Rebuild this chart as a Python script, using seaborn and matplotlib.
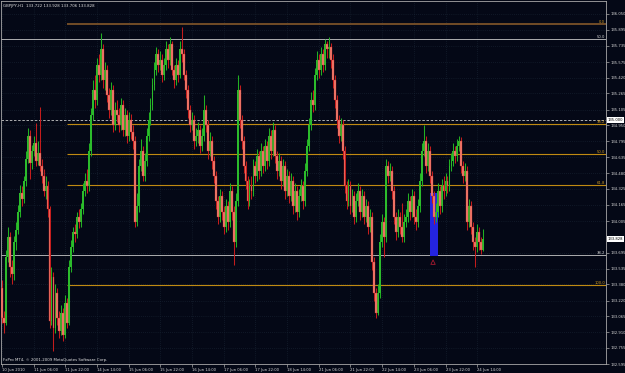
import matplotlib
matplotlib.use("Agg")
import matplotlib.pyplot as plt
import seaborn as sns
import pandas as pd
from matplotlib.patches import Rectangle

# ---------------- data ----------------
title_text = "GBPJPY,H1  133.722 133.928 133.706 133.828"
footer_text = "FxPro MT4, \u00a9 2001-2009 MetaQuotes Software Corp."

open_first = 133.35
closes = [
    133.05, 133.00, 133.65, 133.85, 133.55, 133.48, 133.80, 133.92, 134.10, 134.28,
    134.22, 134.40, 134.62, 134.85, 134.58, 134.70, 134.78, 134.60, 134.68, 134.55,
    134.45, 134.30, 134.35, 134.12, 133.02, 133.45, 132.95, 133.30, 133.05, 132.92,
    133.10, 132.88, 133.20, 133.00, 133.55, 133.75, 133.90, 133.88, 134.05, 134.00,
    134.12, 134.30, 134.40, 134.35, 134.70, 135.05, 135.30, 135.20, 135.55, 135.45,
    135.70, 135.40, 135.50, 135.25, 135.10, 135.30, 134.95, 135.10, 135.05, 134.95,
    135.15, 134.90, 135.05, 134.85, 135.00, 134.88, 134.80, 134.00, 134.15, 134.55,
    134.70, 134.45, 134.60, 134.85, 135.00, 135.15, 135.35, 135.50, 135.65, 135.55,
    135.60, 135.45, 135.55, 135.70, 135.60, 135.75, 135.50, 135.40, 135.55, 135.45,
    135.70, 135.65, 135.45, 135.30, 135.10, 134.95, 135.00, 134.80, 134.85, 134.90,
    134.75, 134.85, 135.10, 134.95, 134.70, 134.80, 134.60, 134.45, 134.20, 134.05,
    134.25, 134.10, 133.95, 134.15, 134.00, 134.30, 134.10, 133.80, 134.20, 135.30,
    135.00, 134.80, 134.55, 134.40, 134.20, 134.35, 134.30, 134.55, 134.45, 134.65,
    134.50, 134.70, 134.55, 134.75, 134.60, 134.85, 134.70, 134.90, 134.65, 134.50,
    134.60, 134.40, 134.55, 134.30, 134.45, 134.25, 134.40, 134.15, 134.30, 134.10,
    134.25, 134.35, 134.20, 134.50, 134.75, 134.95, 135.20, 135.15, 135.45, 135.60,
    135.50, 135.65, 135.55, 135.75, 135.70, 135.72, 135.60, 135.40, 135.20, 135.00,
    134.85, 134.95, 134.70, 134.35, 134.20, 134.35, 134.15, 134.25, 134.05, 134.20,
    134.30, 134.10, 134.25, 134.05, 134.15, 133.95, 134.05, 133.60, 133.30, 133.10,
    133.30, 133.80, 134.00, 133.85, 134.55, 134.45, 134.50, 134.30, 134.05, 133.90,
    134.05, 133.95, 133.85, 134.00, 134.05, 134.20, 134.10, 134.25, 134.05, 134.00,
    134.15, 134.40, 134.70, 134.80, 134.55, 134.70, 134.45, 134.25, 134.05, 134.10,
    134.30, 134.15, 134.35, 134.30, 134.40, 134.35, 134.55, 134.60, 134.70, 134.65,
    134.75, 134.80, 134.55, 134.45, 134.50, 134.00, 134.15, 133.95, 133.80, 133.75,
    133.90, 133.80, 133.722, 133.828,
]
highs = [
    133.42, 133.12, 133.72, 133.95, 133.90, 133.62, 133.86, 134.00, 134.16, 134.36,
    134.35, 134.45, 134.70, 134.92, 134.90, 134.76, 134.85, 134.97, 134.80, 135.13,
    134.62, 134.52, 134.45, 134.40, 134.15, 133.55, 133.50, 133.38, 133.35, 133.12,
    133.18, 133.15, 133.28, 133.25, 133.62, 133.82, 133.95, 133.98, 134.10, 134.12,
    134.18, 134.38, 134.48, 134.52, 134.78, 135.12, 135.40, 135.45, 135.62, 135.65,
    135.86, 135.75, 135.58, 135.55, 135.32, 135.38, 135.35, 135.18, 135.20, 135.12,
    135.22, 135.20, 135.12, 135.10, 135.08, 135.06, 134.95, 134.85, 134.28, 134.62,
    134.82, 134.75, 134.68, 134.92, 135.08, 135.22, 135.42, 135.58, 135.72, 135.70,
    135.68, 135.65, 135.62, 135.78, 135.75, 135.82, 135.78, 135.55, 135.62, 135.60,
    135.78, 135.92, 135.70, 135.50, 135.35, 135.15, 135.08, 135.05, 134.92, 134.98,
    134.95, 134.92, 135.25, 135.15, 135.00, 134.88, 134.85, 134.65, 134.50, 134.25,
    134.32, 134.30, 134.15, 134.22, 134.20, 134.38, 134.35, 134.15, 134.28, 135.45,
    135.35, 135.05, 134.85, 134.60, 134.45, 134.42, 134.45, 134.62, 134.60, 134.72,
    134.70, 134.78, 134.75, 134.82, 134.80, 134.92, 134.90, 134.98, 134.95, 134.70,
    134.68, 134.65, 134.62, 134.60, 134.52, 134.50, 134.48, 134.45, 134.38, 134.35,
    134.32, 134.42, 134.40, 134.58, 134.82, 135.02, 135.28, 135.30, 135.52, 135.68,
    135.65, 135.72, 135.70, 135.80, 135.78, 135.82, 135.76, 135.65, 135.45, 135.25,
    135.05, 135.02, 135.00, 134.75, 134.40, 134.42, 134.40, 134.32, 134.30, 134.28,
    134.38, 134.35, 134.32, 134.30, 134.22, 134.20, 134.12, 134.10, 133.65, 133.35,
    133.38, 133.88, 134.08, 134.05, 134.62, 134.60, 134.58, 134.55, 134.35, 134.10,
    134.12, 134.10, 134.18, 134.08, 134.12, 134.28, 134.25, 134.32, 134.30, 134.12,
    134.22, 134.48, 134.78, 134.95, 134.85, 134.78, 134.75, 134.50, 134.30, 134.18,
    134.38, 134.35, 134.42, 134.45, 134.48, 134.45, 134.62, 134.68, 134.78, 134.75,
    134.82, 134.85, 134.84, 134.60, 134.58, 134.55, 134.22, 134.20, 134.00, 133.85,
    133.98, 133.95, 133.85, 133.928,
]
lows = [
    133.00, 132.90, 132.98, 133.60, 133.45, 133.38, 133.42, 133.72, 133.88, 134.05,
    134.15, 134.18, 134.35, 134.58, 134.42, 134.52, 134.65, 134.55, 134.56, 134.50,
    134.38, 134.25, 134.22, 134.05, 132.95, 132.98, 132.72, 132.90, 132.98, 132.85,
    132.88, 132.82, 132.85, 132.95, 132.98, 133.50, 133.70, 133.80, 133.84, 133.94,
    133.95, 134.08, 134.25, 134.28, 134.30, 134.65, 135.00, 135.12, 135.15, 135.38,
    135.40, 135.32, 135.30, 135.18, 135.02, 135.05, 134.88, 134.90, 134.98, 134.88,
    134.90, 134.85, 134.85, 134.78, 134.80, 134.82, 134.72, 133.95, 133.96, 134.10,
    134.50, 134.40, 134.40, 134.55, 134.80, 134.95, 135.10, 135.30, 135.45, 135.48,
    135.50, 135.38, 135.40, 135.50, 135.52, 135.55, 135.45, 135.32, 135.35, 135.38,
    135.42, 135.58, 135.40, 135.22, 135.02, 134.88, 134.90, 134.72, 134.75, 134.78,
    134.68, 134.70, 134.80, 134.88, 134.62, 134.65, 134.52, 134.38, 134.12, 133.98,
    134.00, 134.02, 133.88, 133.90, 133.92, 133.95, 134.02, 133.57, 133.75, 134.15,
    134.92, 134.72, 134.48, 134.32, 134.12, 134.15, 134.22, 134.25, 134.38, 134.40,
    134.42, 134.45, 134.48, 134.50, 134.52, 134.55, 134.62, 134.65, 134.58, 134.42,
    134.45, 134.32, 134.35, 134.22, 134.25, 134.18, 134.20, 134.08, 134.10, 134.02,
    134.05, 134.20, 134.12, 134.15, 134.45, 134.70, 134.90, 135.08, 135.10, 135.40,
    135.42, 135.45, 135.48, 135.50, 135.62, 135.62, 135.52, 135.32, 135.12, 134.92,
    134.78, 134.80, 134.62, 134.28, 134.12, 134.15, 134.08, 134.10, 133.98, 134.00,
    134.15, 134.02, 134.05, 133.98, 134.00, 133.88, 133.90, 133.52, 133.22, 133.05,
    133.08, 133.25, 133.75, 133.65, 133.80, 134.38, 134.40, 134.22, 133.98, 133.82,
    133.85, 133.88, 133.80, 133.80, 133.95, 134.00, 134.02, 134.05, 133.98, 133.92,
    133.95, 134.10, 134.35, 134.65, 134.48, 134.50, 134.38, 134.18, 133.98, 134.00,
    134.05, 134.08, 134.10, 134.22, 134.25, 134.28, 134.30, 134.50, 134.55, 134.58,
    134.60, 134.70, 134.48, 134.38, 134.40, 133.92, 133.95, 133.88, 133.72, 133.55,
    133.70, 133.72, 133.68, 133.706,
]

time_labels = ["10 Jun 2010", "11 Jun 06:00", "11 Jun 22:00", "14 Jun 14:00",
               "15 Jun 06:00", "15 Jun 22:00", "16 Jun 14:00", "17 Jun 06:00",
               "17 Jun 22:00", "18 Jun 14:00", "21 Jun 06:00", "21 Jun 22:00",
               "22 Jun 14:00", "23 Jun 06:00", "23 Jun 22:00", "24 Jun 14:00"]
time_label_bars = [0, 16, 32, 48, 64, 80, 96, 112, 128, 144, 160, 176, 192, 208, 224, 240]

price_ticks = [136.050, 135.895, 135.735, 135.575, 135.420, 135.265, 135.105,
               134.950, 134.795, 134.635, 134.480, 134.325, 134.165, 134.005,
               133.695, 133.535, 133.380, 133.220, 133.065, 132.910,
               132.755, 132.595]

fib_orange_labels = ["0.0", "38.2", "50.0", "61.8", "100.0"]
fib_orange_prices = [135.951, 134.964, 134.668, 134.362, 133.375]
fib_orange_start_bar = 33
fib_white_labels = ["50.0", "38.2"]
fib_white_prices = [135.803, 133.671]
hline_price = 135.000
current_price = 133.828
box_bars = [216.2, 220.2]
box_prices = [133.661, 134.283]
arrow_bar = 217.7
arrow_price = 133.60

# ---------------- build frame ----------------
opens = [open_first] + closes[:-1]
df = pd.DataFrame({"bar": range(len(closes)), "open": opens, "high": highs,
                   "low": lows, "close": closes})
df["up"] = df["close"] >= df["open"]

BG = "#040816"
sns.set_style("dark", rc={"axes.facecolor": BG, "figure.facecolor": BG,
                          "axes.edgecolor": "#a8a8a8", "grid.color": "#1a2636"})
plt.rcParams["font.family"] = ["DejaVu Sans"]

W, H = 625, 373
fig = plt.figure(figsize=(W / 100, H / 100), dpi=100)
ax = fig.add_axes([1 / W, (H - 364) / H, 605 / W, 363 / H])
ax.set_facecolor(BG)

px_per_bar = 1.98
px_per_price = 1 / 0.00987
ax.set_xlim(-1 / px_per_bar, (606 - 2) / px_per_bar)
ax.set_ylim(132.595, 132.595 + 363 / px_per_price)

# grid
ax.grid(True, color="#1b2838", linestyle=(0, (1, 2)), linewidth=0.5)

# horizontal objects
x_right = ax.get_xlim()[1]
ax.axhline(hline_price, color="#c8c8c8", lw=0.6, ls=(0, (3, 2)), zorder=2)
for lab, p in zip(fib_white_labels, fib_white_prices):
    ax.axhline(p, color="#c8c8c8", lw=0.6, zorder=2)
    ax.text(0.998, p, lab, transform=ax.get_yaxis_transform(), ha="right",
            va="bottom", fontsize=2.7, color="#d8d8d8")
for lab, p in zip(fib_orange_labels, fib_orange_prices):
    col = "#7a5228" if lab == "0.0" else "#c08a12"
    lw = 1.3 if lab == "0.0" else 0.8
    ax.hlines(p, fib_orange_start_bar, x_right, color=col, lw=lw, zorder=2)
    ax.text(0.998, p, lab, transform=ax.get_yaxis_transform(), ha="right",
            va="bottom", fontsize=2.7, color="#d09a20")

# blue rectangle
ax.add_patch(Rectangle((box_bars[0], box_prices[0]), box_bars[1] - box_bars[0],
                       box_prices[1] - box_prices[0], facecolor="#2424e0",
                       edgecolor="none", zorder=2.5))

# candles
up = df[df["up"]]
dn = df[~df["up"]]
ax.vlines(up["bar"], up["low"], up["high"], color="#22b022", lw=0.75, zorder=3)
ax.vlines(dn["bar"], dn["low"], dn["high"], color="#c41c1c", lw=0.75, zorder=3)
ax.bar(up["bar"], (up["close"] - up["open"]).clip(lower=0.01), bottom=up["open"],
       width=0.95, color="#2cbc2c", linewidth=0, zorder=3.2)
ax.bar(dn["bar"], (dn["open"] - dn["close"]).clip(lower=0.01), bottom=dn["close"],
       width=0.95, color="#f28070", edgecolor="#d02a2a", linewidth=0.25, zorder=3.2)

# arrow mark
ax.scatter([arrow_bar], [arrow_price], marker="^", s=10, facecolors="none",
           edgecolors="#a81a30", linewidths=0.6, zorder=4)

# axes / ticks
ax.yaxis.tick_right()
ax.set_yticks(price_ticks)
ax.set_yticklabels([f"{v:.3f}" for v in price_ticks])
ax.set_xticks(time_label_bars)
ax.set_xticklabels(time_labels)
ax.tick_params(axis="both", colors="#a8a8a8", labelcolor="#d8d8d8",
               labelsize=2.7, length=2, width=0.5, pad=1)
ax.tick_params(axis="y", right=True, left=False)
ax.tick_params(axis="x", bottom=True)
for t in ax.get_xticklabels():
    t.set_ha("left")
for s in ax.spines.values():
    s.set_visible(True)
    s.set_color("#a8a8a8")
    s.set_linewidth(0.6)
ax.set_xlabel("")
ax.set_ylabel("")

# highlighted price labels on the axis
for p in [hline_price, current_price]:
    ax.text(1.003, p, f"{p:.3f}", transform=ax.get_yaxis_transform(),
            ha="left", va="center", fontsize=2.7, color="black", zorder=6,
            clip_on=False,
            bbox=dict(boxstyle="square,pad=0.25", fc="white", ec="none"))

fig.text(3 / W, 1 - 5.5 / H, title_text, fontsize=2.8, color="#e0e0e0",
         ha="left", va="center")
fig.text(3 / W, 1 - 360 / H, footer_text, fontsize=2.8, color="#e0e0e0",
         ha="left", va="center")

fig.savefig("out.png", dpi=100, facecolor=BG)
